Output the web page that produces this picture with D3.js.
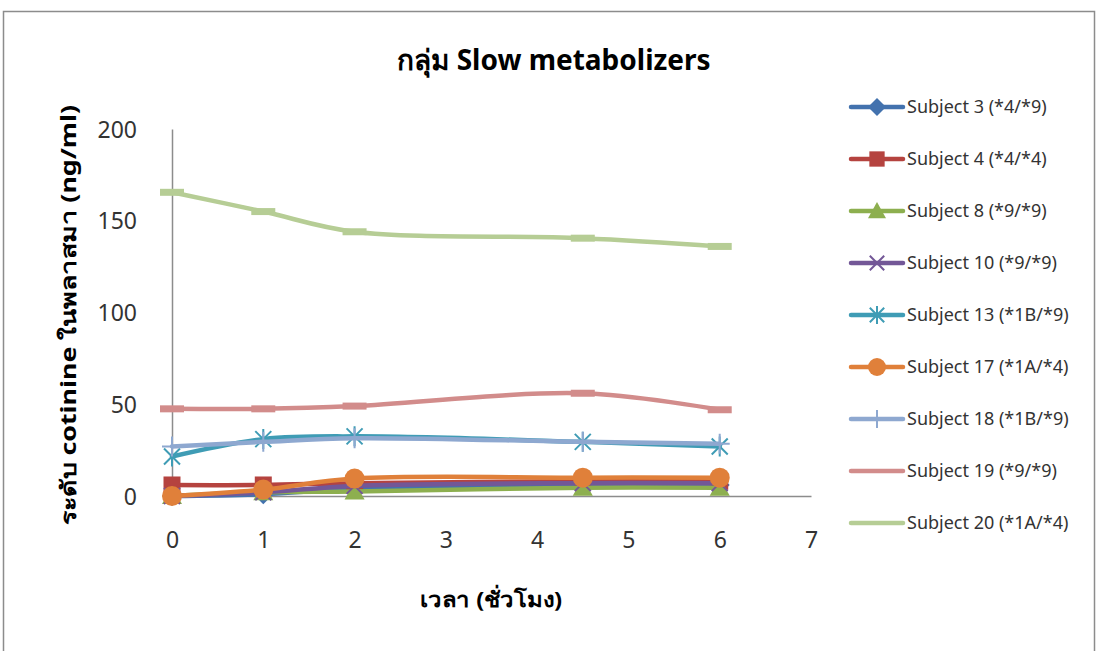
<!DOCTYPE html>
<html>
<head>
<meta charset="utf-8">
<script src="https://cdn.jsdelivr.net/npm/d3@7"></script>
<style>
  html, body { margin: 0; padding: 0; background: #fff; }
  svg { display: block; font-family: "Noto Sans", "Open Sans", sans-serif; }
</style>
</head>
<body>
<svg id="chart" width="1096" height="651"></svg>
<script>
// Sampling times (hours)
const times = [0, 1, 2, 4.5, 6];

// Series names and plasma cotinine levels (ng/ml)
const seriesNames = [
  "Subject 3 (*4/*9)", "Subject 4 (*4/*4)", "Subject 8 (*9/*9)",
  "Subject 10 (*9/*9)", "Subject 13 (*1B/*9)", "Subject 17 (*1A/*4)",
  "Subject 18 (*1B/*9)", "Subject 19 (*9/*9)", "Subject 20 (*1A/*4)"
];
const subject3  = [0, 1, 4, 6, 6];
const subject4  = [6, 6, 7, 8, 8];
const subject8  = [0, 2, 2.5, 4.5, 4.5];
const subject10 = [0, 2, 5.5, 7, 7];
const subject13 = [21.5, 31, 32.5, 29.5, 27];
const subject17 = [0, 3.5, 9.5, 10, 10];
const subject18 = [27, 29.5, 31.5, 29.5, 28.5];
const subject19 = [47.5, 47.5, 49, 56, 47];
const subject20 = [165.5, 155, 144, 140.5, 136];
const seriesValues = [subject3, subject4, subject8, subject10, subject13,
                      subject17, subject18, subject19, subject20];

const xTicks = [0, 1, 2, 3, 4, 5, 6, 7];
const yTicks = [0, 50, 100, 150, 200];

const title = "กลุ่ม Slow metabolizers";
const xTitle = "เวลา (ชั่วโมง)";
const yTitle = "ระดับ cotinine ในพลาสมา (ng/ml)";

// Styling per series
const colors = ["#4372AE", "#B5433F", "#8DAF4F", "#735797", "#3F9CB5",
                "#E0803A", "#8EA8D0", "#D28C8B", "#B6CD95"];
const markers = ["diamond", "square", "triangle", "x", "star", "circle", "plus", "dash", "dash"];

const svg = d3.select("#chart");

// Chart-area frame
svg.append("rect")
  .attr("x", 3.5).attr("y", 11.5)
  .attr("width", 1091).attr("height", 700)
  .attr("fill", "#fff").attr("stroke", "#8c8c8c").attr("stroke-width", 1.5);

const plot = { left: 172, right: 811, top: 129, bottom: 496 };
const x = d3.scaleLinear().domain([0, 7]).range([plot.left, plot.right]);
const y = d3.scaleLinear().domain([0, 200]).range([plot.bottom, plot.top]);

// Axes
const xAxis = d3.axisBottom(x).tickValues(xTicks).tickSize(0).tickPadding(36).tickFormat(d3.format("d"));
const yAxis = d3.axisLeft(y).tickValues(yTicks).tickSize(0).tickPadding(35);

const gx = svg.append("g").attr("transform", `translate(0,${plot.bottom})`).call(xAxis);
const gy = svg.append("g").attr("transform", `translate(${plot.left},0)`).call(yAxis);
[gx, gy].forEach(g => {
  g.select(".domain").attr("stroke", "#8c8c8c").attr("stroke-width", 1.5);
  g.selectAll("text").attr("font-size", 23).attr("fill", "#333")
    .attr("font-family", "\"Noto Sans\", sans-serif");
});
gy.selectAll("text").attr("dy", "0.35em");

// Titles
svg.append("text").attr("x", 554).attr("y", 70).attr("text-anchor", "middle")
  .attr("font-size", 28).attr("font-weight", "bold").attr("fill", "#000").text(title);
svg.append("text").attr("x", 491).attr("y", 607).attr("text-anchor", "middle")
  .attr("font-size", 21).attr("font-weight", "bold").attr("fill", "#000")
  .attr("textLength", 142).attr("lengthAdjust", "spacingAndGlyphs").text(xTitle);
svg.append("text").attr("transform", "translate(76,315) rotate(-90)").attr("text-anchor", "middle")
  .attr("font-size", 21).attr("font-weight", "bold").attr("fill", "#000")
  .attr("textLength", 420).attr("lengthAdjust", "spacingAndGlyphs").text(yTitle);

// Marker drawing
function drawMarker(g, type, color, size) {
  const s = size;
  switch (type) {
    case "diamond":
      g.append("path").attr("d", `M0,${-s}L${s},0L0,${s}L${-s},0Z`).attr("fill", color); break;
    case "square":
      g.append("rect").attr("x", -s * 0.85).attr("y", -s * 0.85).attr("width", s * 1.7).attr("height", s * 1.7).attr("fill", color); break;
    case "triangle":
      g.append("path").attr("d", `M0,${-s}L${s},${s * 0.8}L${-s},${s * 0.8}Z`).attr("fill", color); break;
    case "circle":
      g.append("circle").attr("r", s).attr("fill", color); break;
    case "x":
      g.append("path").attr("d", `M${-s * 0.8},${-s * 0.8}L${s * 0.8},${s * 0.8}M${-s * 0.8},${s * 0.8}L${s * 0.8},${-s * 0.8}`)
        .attr("stroke", color).attr("stroke-width", 2).attr("fill", "none"); break;
    case "star":
      g.append("path").attr("d", `M${-s * 0.8},${-s * 0.8}L${s * 0.8},${s * 0.8}M${-s * 0.8},${s * 0.8}L${s * 0.8},${-s * 0.8}M0,${-s}L0,${s}`)
        .attr("stroke", color).attr("stroke-width", 2).attr("fill", "none"); break;
    case "plus":
      g.append("path").attr("d", `M0,${-s}L0,${s}M${-s},0L${s},0`)
        .attr("stroke", color).attr("stroke-width", 2).attr("fill", "none"); break;
    case "dash":
      g.append("rect").attr("x", -s).attr("y", -3.5).attr("width", 2 * s).attr("height", 7).attr("fill", color); break;
  }
}

const line = d3.line()
  .x((d, i) => x(times[i]))
  .y(d => y(d))
  .curve(d3.curveCatmullRom.alpha(0.5));

seriesValues.forEach((vals, k) => {
  const g = svg.append("g");
  g.append("path").attr("d", line(vals)).attr("fill", "none")
    .attr("stroke", colors[k]).attr("stroke-width", 4.5).attr("stroke-linecap", "round");
  vals.forEach((v, i) => {
    const m = g.append("g").attr("transform", `translate(${x(times[i])},${y(v)})`);
    drawMarker(m, markers[k], colors[k], markers[k] === "dash" ? 12 : 10);
  });
});

// Legend
const legend = svg.append("g");
seriesNames.forEach((name, k) => {
  const yy = 107 + k * 52;
  const g = legend.append("g").attr("transform", `translate(0,${yy})`);
  g.append("line").attr("x1", 851).attr("x2", 903).attr("y1", 0).attr("y2", 0)
    .attr("stroke", colors[k]).attr("stroke-width", 4.5).attr("stroke-linecap", "round");
  if (markers[k] !== "dash") {
    const m = g.append("g").attr("transform", "translate(877,0)");
    drawMarker(m, markers[k], colors[k], 9);
  }
  g.append("text").attr("x", 907).attr("y", 0).attr("dy", "0.35em")
    .attr("font-size", 18).attr("fill", "#333").text(name);
});
</script>
</body>
</html>
